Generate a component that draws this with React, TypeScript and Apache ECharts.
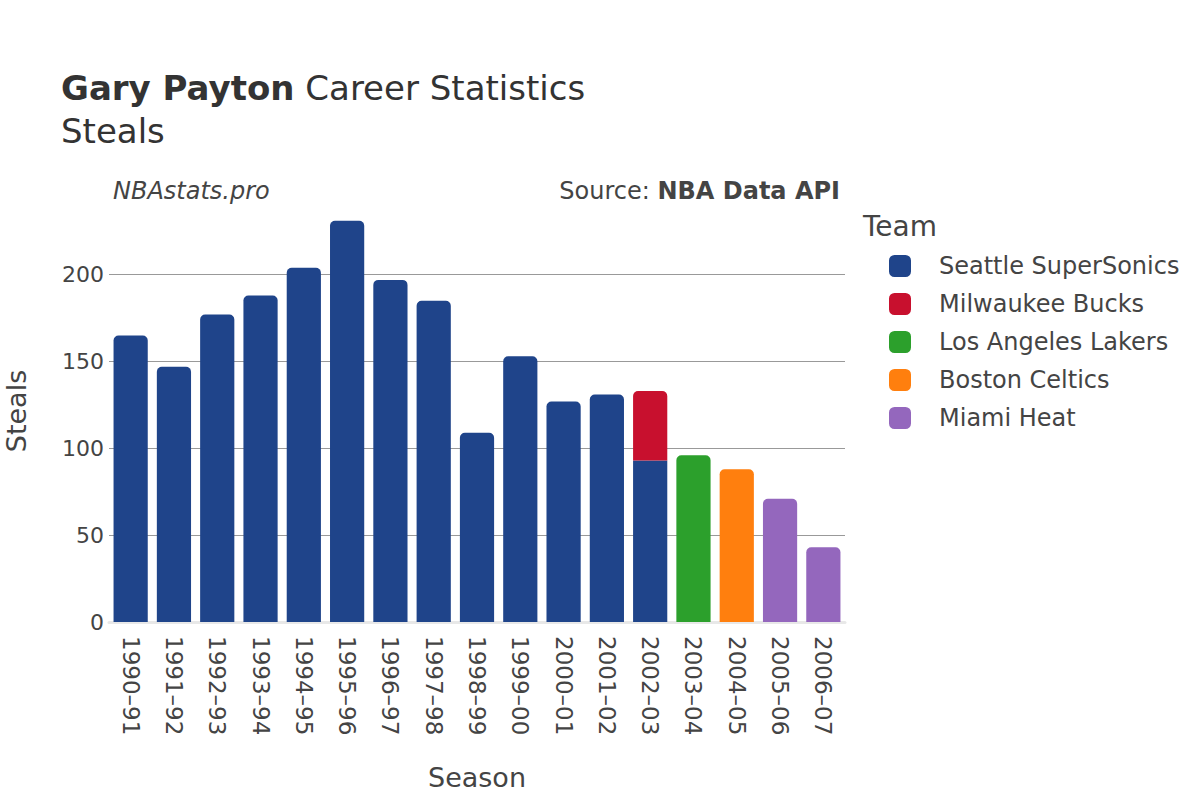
import React, { useEffect, useRef } from "react";
import * as echarts from "echarts";

const seasons = [
  "1990–91", "1991–92", "1992–93", "1993–94", "1994–95", "1995–96", "1996–97",
  "1997–98", "1998–99", "1999–00", "2000–01", "2001–02", "2002–03", "2003–04",
  "2004–05", "2005–06", "2006–07",
];
const teams = [
  "Seattle SuperSonics",
  "Milwaukee Bucks",
  "Los Angeles Lakers",
  "Boston Celtics",
  "Miami Heat",
];
const teamColors = ["#1f448a", "#c8102e", "#2ca02c", "#ff7f0e", "#9467bd"];
const seattle = [165, 147, 177, 188, 204, 231, 197, 185, 109, 153, 127, 131, 93, null, null, null, null];
const milwaukee = [null, null, null, null, null, null, null, null, null, null, null, null, 40, null, null, null, null];
const lakers = [null, null, null, null, null, null, null, null, null, null, null, null, null, 96, null, null, null];
const celtics = [null, null, null, null, null, null, null, null, null, null, null, null, null, null, 88, null, null];
const heat = [null, null, null, null, null, null, null, null, null, null, null, null, null, null, null, 71, 43];
const seriesValues = [seattle, milwaukee, lakers, celtics, heat];

const FONT = "DejaVu Sans";
const TXT = "#444";

export default function App() {
  const ref = useRef<HTMLDivElement>(null);
  useEffect(() => {
    if (!ref.current) return;
    const chart = echarts.init(ref.current, undefined, { renderer: "svg" });
    const series = teams.map((name, ti) => ({
      name,
      type: "bar",
      stack: "total",
      barCategoryGap: "21%",
      itemStyle: { color: teamColors[ti] },
      data: seriesValues[ti].map((v, ci) => {
        if (v === null) return null;
        let isTop = true;
        for (let k = ti + 1; k < seriesValues.length; k++) {
          if (seriesValues[k][ci] !== null) isTop = false;
        }
        return {
          value: v,
          itemStyle: { borderRadius: isTop ? [5, 5, 0, 0] : 0 },
        };
      }),
    }));
    chart.setOption({
      animation: false,
      backgroundColor: "#fff",
      textStyle: { fontFamily: FONT },
      grid: {
        left: 109,
        right: 355,
        top: 200,
        bottom: 178,
        containLabel: false,
        outerBoundsMode: "none",
      },
      xAxis: {
        type: "category",
        data: seasons,
        axisTick: { show: false },
        axisLine: { show: true, lineStyle: { color: "#e8e8e8", width: 3 } },
        axisLabel: {
          rotate: -90,
          color: TXT,
          fontSize: 23,
          fontFamily: FONT,
          margin: 14,
          interval: 0,
        },
        name: "Season",
        nameLocation: "middle",
        nameGap: 142,
        nameTextStyle: { fontSize: 27, color: TXT, fontFamily: FONT },
      },
      yAxis: {
        type: "value",
        min: 0,
        max: 243,
        interval: 50,
        axisLine: { show: false },
        axisTick: { show: false },
        splitLine: {
          lineStyle: {
            color: ["#999", "#999", "#999", "#999", "#999", "rgba(0,0,0,0)"],
            width: 1,
          },
        },
        axisLabel: {
          color: TXT,
          fontSize: 22,
          fontFamily: FONT,
          margin: 5,
          showMaxLabel: false,
        },
        name: "Steals",
        nameLocation: "middle",
        nameGap: 79,
        nameTextStyle: { fontSize: 27, color: TXT, fontFamily: FONT },
      },
      legend: {
        orient: "vertical",
        left: 884,
        top: 249,
        itemWidth: 22,
        itemHeight: 22,
        itemGap: 14,
        icon: "roundRect",
        textStyle: { fontSize: 24, color: TXT, fontFamily: FONT, padding: [0, 0, 0, 23] },
        data: teams,
      },
      graphic: [
        {
          type: "text",
          left: 61,
          top: 71,
          style: {
            text: "{b|Gary Payton} Career Statistics",
            rich: {
              b: { fontWeight: "bold", fontSize: 34, fill: "#333", fontFamily: FONT },
            },
            fontSize: 34,
            fill: "#333",
            fontFamily: FONT,
          },
        },
        {
          type: "text",
          left: 61,
          top: 114,
          style: { text: "Steals", fontSize: 34, fill: "#333", fontFamily: FONT },
        },
        {
          type: "text",
          left: 113,
          top: 179,
          style: { text: "NBAstats.pro", fontSize: 24, fontStyle: "italic", fill: TXT, fontFamily: FONT },
        },
        {
          type: "text",
          right: 360,
          top: 179,
          style: {
            text: "Source: {b|NBA Data API}",
            rich: { b: { fontWeight: "bold", fontSize: 24, fill: TXT, fontFamily: FONT } },
            fontSize: 24,
            fill: TXT,
            fontFamily: FONT,
          },
        },
        {
          type: "text",
          left: 863,
          top: 212,
          style: { text: "Team", fontSize: 28, fill: TXT, fontFamily: FONT },
        },
      ],
      series,
    });
    return () => chart.dispose();
  }, []);
  return (
    <div
      ref={ref}
      style={{ position: "fixed", left: 0, top: 0, width: 1200, height: 800 }}
    />
  );
}
